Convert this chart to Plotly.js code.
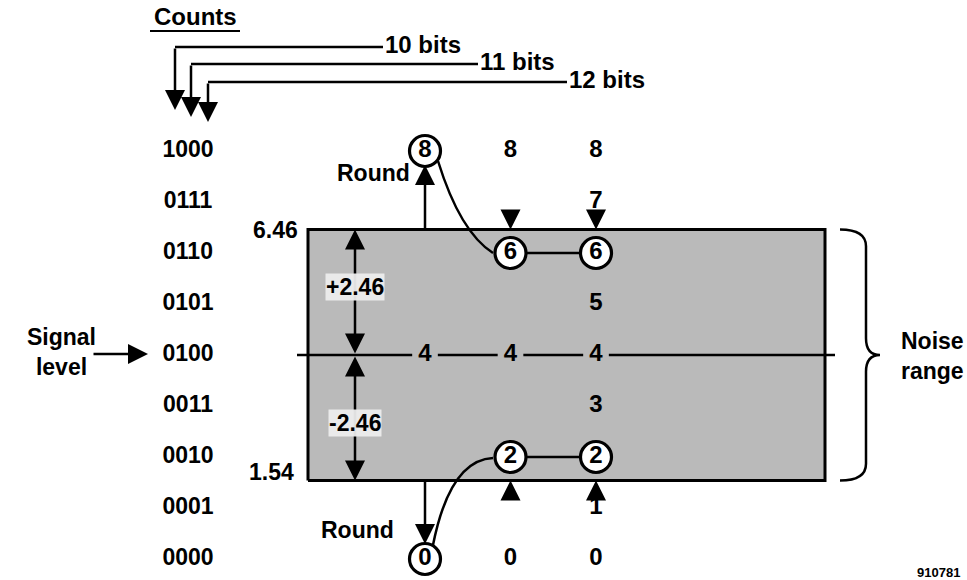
<!DOCTYPE html>
<html>
<head>
<meta charset="utf-8">
<script src="https://cdn.plot.ly/plotly-3.0.1.min.js"></script>
<style>html,body{margin:0;padding:0;background:#fff;}#chart{width:967px;height:580px;}</style>
</head>
<body>
<div id="chart"></div>
<script>
// ---------- data ----------
const codes = ['0000','0001','0010','0011','0100','0101','0110','0111','1000'];
const levels = [0,1,2,3,4,5,6,7,8];
const bitLabels = ['10 bits','11 bits','12 bits'];
const columns = [1,2,3];
const plainCol1 = [4];
const plainCol2 = [8,4,0];
const plainCol3 = [8,7,5,4,3,1,0];
const circledCol1 = [8,0];
const circledCol2 = [6,2];
const circledCol3 = [6,2];
const signalLevel = 4;
const noiseHalf = 2.46;
const noiseTop = 6.46;
const noiseBottom = 1.54;
const plusLabel = '+2.46';
const minusLabel = '-2.46';

// ---------- layout helpers (pixel -> axis units) ----------
const W = 967, H = 580;
const COLPX = 425, COLSTEP = 85.5, SIGPX = 355, LEVSTEP = 51;
const X = px => 1 + (px - COLPX) / COLSTEP;
const Y = py => signalLevel - (py - SIGPX) / LEVSTEP;
const xRange = [X(0), X(W)];
const yRange = [Y(H), Y(0)];
const FONT = 'Liberation Sans, Arial, Helvetica, sans-serif';
const F = (s) => ({family: FONT, size: s, color: '#000', weight: 700});

const boxL = X(308), boxR = X(825);

const traces = [];
// noise box
traces.push({
  type: 'scatter', mode: 'lines',
  x: [boxL, boxR, boxR, boxL, boxL],
  y: [noiseBottom, noiseBottom, noiseTop, noiseTop, noiseBottom],
  fill: 'toself', fillcolor: '#bababa',
  line: {color: '#000', width: 3}, hoverinfo: 'skip'
});
// signal line with gaps at column labels
const gap = 0.15;
const lx = [X(297)], ly = [signalLevel];
columns.forEach(c => { lx.push(c - gap, null, c + gap); ly.push(signalLevel, null, signalLevel); });
lx.push(X(835)); ly.push(signalLevel);
traces.push({type:'scatter', mode:'lines', x: lx, y: ly, line:{color:'#000', width:2.5}, hoverinfo:'skip'});
// connectors between equal circled values (cols 2 and 3)
circledCol2.forEach((v, i) => {
  traces.push({type:'scatter', mode:'lines', x:[2, 3], y:[v, circledCol3[i]], line:{color:'#000', width:2.5}, hoverinfo:'skip'});
});
// circled values
const cx = [], cy = [];
[[1, circledCol1],[2, circledCol2],[3, circledCol3]].forEach(([c, arr]) => arr.forEach(v => { cx.push(c); cy.push(v); }));
traces.push({type:'scatter', mode:'markers+text', x: cx, y: cy, text: cy.map(String),
  textposition:'middle center', textfont: F(24),
  marker:{size:31, color:'#fff', line:{color:'#000', width:3.2}}, hoverinfo:'skip'});
// plain values
const px_ = [], py_ = [];
[[1, plainCol1],[2, plainCol2],[3, plainCol3]].forEach(([c, arr]) => arr.forEach(v => { px_.push(c); py_.push(v); }));
traces.push({type:'scatter', mode:'text', x: px_, y: py_, text: py_.map(String),
  textposition:'middle center', textfont: F(24), hoverinfo:'skip'});
// row labels (counts)
traces.push({type:'scatter', mode:'text', x: levels.map(() => X(188)), y: levels, text: codes,
  textposition:'middle center', textfont: F(23), hoverinfo:'skip'});

// ---------- shapes ----------
const shapes = [];
const L = (x0,y0,x1,y1,w) => ({type:'line', xref:'x', yref:'y', x0, y0, x1, y1, line:{color:'#000', width:w||2.5}, layer:'above'});
// counts elbows
const elbowX = [175, 191, 208], elbowY = [47, 64, 82], elbowEnd = [383, 478, 567];
bitLabels.forEach((b, i) => shapes.push(L(X(elbowX[i]), Y(elbowY[i]), X(elbowEnd[i]), Y(elbowY[i]), 2.5)));
// counts underline
shapes.push(L(X(150), Y(31), X(240), Y(31), 2));
// curves (rounding paths)
const q = (a, c, b) => `M ${a[0]},${a[1]} Q ${c[0]},${c[1]} ${b[0]},${b[1]}`;
shapes.push({type:'path', xref:'x', yref:'y', layer:'above', line:{color:'#000', width:2.5},
  path: q([X(438), Y(161)], [X(460), Y(232)], [X(493), Y(253)])});
shapes.push({type:'path', xref:'x', yref:'y', layer:'above', line:{color:'#000', width:2.5},
  path: q([X(433), Y(545)], [X(450), Y(460)], [X(493), Y(458)])});
// brace
const bT = noiseTop, bB = noiseBottom, bM = signalLevel;
const bx0 = X(840), bx1 = X(866), bx2 = X(880), r = 0.33;
shapes.push({type:'path', xref:'x', yref:'y', layer:'above', line:{color:'#000', width:2.5},
  path: `M ${bx0},${bT} Q ${bx1},${bT} ${bx1},${bT - r} L ${bx1},${bM + r} Q ${bx1},${bM} ${bx2},${bM} ` +
        `Q ${bx1},${bM} ${bx1},${bM - r} L ${bx1},${bB + r} Q ${bx1},${bB} ${bx0},${bB}`});

// ---------- annotations ----------
const ann = [];
const arrow = (hx, hy, tx, ty, side) => ({x: hx, y: hy, ax: tx, ay: ty, xref:'x', yref:'y', axref:'x', ayref:'y',
  text:'', showarrow:true, arrowhead:2, arrowsize:1.6, arrowwidth:2.5, arrowcolor:'#000', arrowside: side || 'end',
  startarrowhead:2, startarrowsize:1.6});
const T = (x, y, text, size, opts) => Object.assign({x, y, xref:'x', yref:'y', text, showarrow:false, font:F(size)}, opts||{});

// counts arrows
const arrowTip = [110, 117, 122];
bitLabels.forEach((b, i) => {
  ann.push(arrow(X(elbowX[i]), Y(arrowTip[i]), X(elbowX[i]), Y(elbowY[i])));
  ann.push(T(X(elbowEnd[i]), Y(elbowY[i] - 3), b, 24, {xanchor:'left'}));
});
ann.push(T(X(195), Y(16), 'Counts', 24));
// rounding arrows col 1
ann.push(arrow(1, Y(165), 1, noiseTop));
ann.push(arrow(1, Y(544), 1, noiseBottom));
// short arrows cols 2,3
ann.push(arrow(2, noiseTop, 2, Y(209)));
ann.push(arrow(3, noiseTop, 3, Y(211)));
ann.push(arrow(2, noiseBottom, 2, Y(501)));
ann.push(arrow(3, noiseBottom, 3, Y(499)));
// noise half-range double arrows
const xa = X(355);
ann.push(arrow(xa, noiseTop, xa, signalLevel, 'end+start'));
ann.push(arrow(xa, noiseBottom, xa, signalLevel, 'end+start'));
ann.push(T(xa, signalLevel + noiseHalf / 2 + 0.1, plusLabel, 23, {bgcolor:'rgba(236,236,236,0.95)', borderpad:0}));
ann.push(T(xa, signalLevel - noiseHalf / 2 - 0.1, minusLabel, 23, {bgcolor:'rgba(236,236,236,0.95)', borderpad:0}));
// range labels
ann.push(T(X(300), noiseTop, String(noiseTop), 23, {xanchor:'right'}));
ann.push(T(X(296), noiseBottom, String(noiseBottom), 23, {xanchor:'right', yshift:8}));
// Round labels
ann.push(T(X(373), Y(173), 'Round', 23));
ann.push(T(X(357), Y(530), 'Round', 23));
// signal level
ann.push(arrow(X(148), Y(354), X(92), Y(354)));
ann.push(T(X(61), Y(352), 'Signal<br>level', 23));
ann.push(T(X(932), Y(356), 'Noise<br>range', 23));
ann.push(T(X(938), Y(572), '910781', 13));

const layout = {
  width: W, height: H, margin:{l:0, r:0, t:0, b:0},
  paper_bgcolor:'#fff', plot_bgcolor:'#fff', showlegend:false,
  xaxis:{range:xRange, visible:false, fixedrange:true},
  yaxis:{range:yRange, visible:false, fixedrange:true},
  shapes, annotations: ann
};
Plotly.newPlot('chart', traces, layout, {staticPlot:true, displayModeBar:false});
</script>
</body>
</html>
